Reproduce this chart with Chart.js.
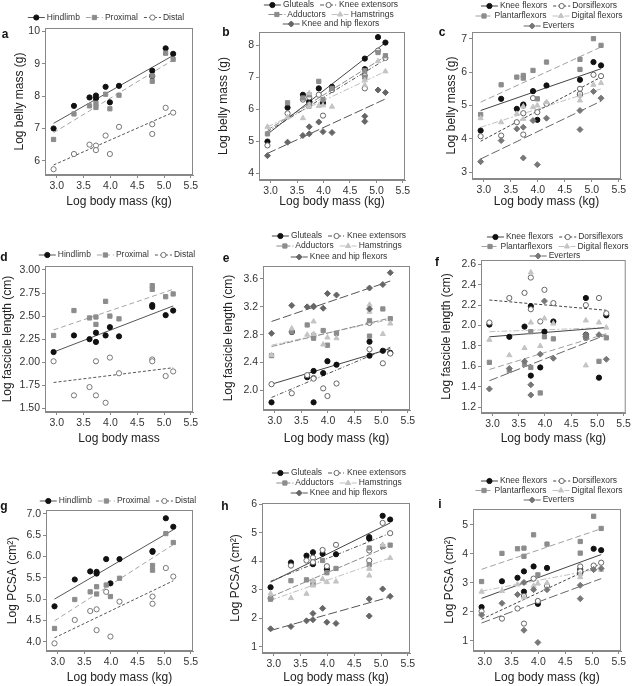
<!DOCTYPE html>
<html>
<head>
<meta charset="utf-8">
<script src="https://cdn.jsdelivr.net/npm/chart.js@4.4.0/dist/chart.umd.min.js"></script>
<style>
  body { margin: 0; background: #fff; }
  #wrap { position: relative; width: 633px; height: 686px; overflow: hidden; }
  .panel { position: absolute; }
</style>
</head>
<body>
<div id="wrap">
  <canvas class="panel" id="pa" width="211" height="230" style="left:0;top:0"></canvas>
  <canvas class="panel" id="pb" width="211" height="230" style="left:211px;top:0"></canvas>
  <canvas class="panel" id="pc" width="211" height="230" style="left:422px;top:0"></canvas>
  <canvas class="panel" id="pd" width="211" height="230" style="left:0;top:230px"></canvas>
  <canvas class="panel" id="pe" width="211" height="230" style="left:211px;top:230px"></canvas>
  <canvas class="panel" id="pf" width="211" height="230" style="left:422px;top:230px"></canvas>
  <canvas class="panel" id="pg" width="211" height="226" style="left:0;top:460px"></canvas>
  <canvas class="panel" id="ph" width="211" height="226" style="left:211px;top:460px"></canvas>
  <canvas class="panel" id="pi" width="211" height="226" style="left:422px;top:460px"></canvas>
</div>
<script>
// species, log body mass (kg)
const bodyMass = [2.94, 3.32, 3.61, 3.73, 3.73, 3.91, 3.99, 4.16, 4.78, 4.78, 5.03, 5.17];
const fitX = [2.94, 5.17];
const xTicks = [3.0, 3.5, 4.0, 4.5, 5.0, 5.5];

// a - log belly mass, hindlimb groups
const bellyHindlimb = [7.00, 7.70, 7.96, 8.02, 7.93, 8.29, 7.81, 8.32, 8.79, 8.62, 9.48, 9.31];
const bellyProximal = [6.66, 7.45, 7.70, 7.78, 7.65, 8.06, 7.61, 8.03, 8.63, 8.46, 9.33, 9.14];
const bellyDistal   = [5.74, 6.21, 6.50, 6.47, 6.33, 6.78, 6.21, 7.05, 7.13, 6.83, 7.64, 7.49];
const bellyFitHindlimb = [7.16, 9.26];
const bellyFitProximal = [6.87, 9.12];
const bellyFitDistal   = [5.87, 7.50];

// b - log belly mass, proximal muscles
const bellyGluteals   = [4.99, 6.05, 6.45, 6.25, 6.20, 6.65, 6.20, 6.70, 7.58, 7.25, 8.25, 8.08];
const bellyKneeExt    = [4.87, 5.87, 6.30, 6.37, 6.15, 6.45, 5.80, 6.60, 7.05, 6.65, 7.83, 7.60];
const bellyAdductors  = [5.23, 6.20, 6.35, 6.45, 6.10, 6.87, 6.30, 6.65, 7.20, 7.00, 7.77, 7.67];
const bellyHamstrings = [5.45, 5.75, 5.72, 6.50, 6.10, 6.10, 6.12, 6.08, 6.90, 6.75, 7.50, 7.18];
const bellyKneeHip    = [4.55, 4.97, 5.18, 5.45, 5.23, 5.60, 5.30, 5.27, 5.78, 5.62, 6.60, 6.52];
const bellyFitGluteals   = [5.22, 8.08];
const bellyFitKneeExt    = [5.30, 7.55];
const bellyFitAdductors  = [5.35, 7.65];
const bellyFitHamstrings = [5.45, 7.18];
const bellyFitKneeHip    = [4.62, 6.32];

// c - log belly mass, distal muscles
const bellyKneeFlex  = [4.25, 5.20, 4.90, 5.00, 5.03, 5.43, 4.57, 5.60, 5.77, 5.33, 6.30, 6.20];
const bellyDorsi     = [4.08, 4.10, 4.50, 4.77, 4.13, 5.22, 4.80, 5.05, 5.50, 5.35, 5.92, 5.88];
const bellyPlantar   = [4.73, 5.62, 5.85, 5.90, 5.82, 6.05, 5.20, 6.30, 6.38, 6.08, 7.00, 6.80];
const bellyDigital   = [4.62, 4.50, 4.75, 4.97, 4.60, 4.95, 5.00, 5.10, 5.30, 5.15, 5.62, 5.67];
const bellyEverters  = [3.32, 3.95, 4.30, 4.35, 3.43, 4.55, 3.23, 4.62, 4.85, 4.28, 5.42, 5.22];
const bellyFitKneeFlex = [4.85, 6.10];
const bellyFitDorsi    = [3.93, 5.85];
const bellyFitPlantar  = [5.10, 6.75];
const bellyFitDigital  = [4.35, 5.50];
const bellyFitEverters = [3.40, 5.13];

// d - log fascicle length, hindlimb groups
const fasHindlimb = [2.11, 2.29, 2.25, 2.32, 2.22, 2.29, 2.38, 2.28, 2.62, 2.60, 2.51, 2.56];
const fasProximal = [2.29, 2.56, 2.48, 2.49, 2.41, 2.66, 2.50, 2.47, 2.83, 2.79, 2.71, 2.74];
const fasDistal   = [2.01, 1.64, 1.73, 2.01, 1.64, 1.56, 2.05, 1.88, 2.03, 2.01, 1.85, 1.90];
const fasFitHindlimb = [2.11, 2.61];
const fasFitProximal = [2.35, 2.79];
const fasFitDistal   = [1.78, 1.94];

// e - log fascicle length, proximal muscles
const fasGluteals   = [1.83, 2.84, 2.19, 2.28, 1.83, 2.25, 2.42, 2.37, 2.70, 2.50, 2.57, 2.54];
const fasKneeExt    = [2.09, 1.96, 2.22, 2.18, 2.17, 2.03, 1.92, 2.10, 2.97, 2.59, 2.39, 2.53];
const fasAdductors  = [2.50, 2.84, 2.94, 2.79, 2.75, 2.86, 2.65, 2.82, 3.00, 2.78, 3.17, 3.03];
const fasHamstrings = [2.51, 2.89, 2.80, 2.99, 2.81, 2.66, 2.76, 2.75, 3.23, 3.13, 2.81, 2.96];
const fasKneeHip    = [2.82, 3.22, 3.20, 3.21, 3.20, 3.18, 3.39, 3.37, 3.47, 3.17, 3.52, 3.69];
const fasFitGluteals   = [2.09, 2.60];
const fasFitKneeExt    = [1.90, 2.62];
const fasFitAdductors  = [2.63, 3.04];
const fasFitHamstrings = [2.65, 3.02];
const fasFitKneeHip    = [2.99, 3.57];

// f - log fascicle length, distal muscles
const fasKneeFlex = [2.01, 1.89, 1.99, 2.19, 1.51, 1.59, 1.94, 2.04, 2.27, 1.91, 1.49, 2.10];
const fasDorsi    = [2.03, 2.27, 2.32, 2.47, 2.16, 2.04, 2.35, 2.22, 2.20, 1.88, 2.27, 2.12];
const fasPlantar  = [1.64, 1.56, 1.62, 1.94, 1.59, 1.34, 1.89, 1.87, 1.90, 1.88, 1.65, 1.88];
const fasDigital  = [1.86, 1.71, 1.78, 2.52, 2.03, 1.80, 2.07, 2.02, 2.05, 1.61, 2.03, 1.98];
const fasEverters = [1.38, 1.58, 1.65, 1.42, 1.32, 1.72, 2.24, 1.68, 1.91, 1.89, 1.91, 1.67];
const fasFitKneeFlex = [1.89, 1.98];
const fasFitDorsi    = [2.25, 2.15];
const fasFitPlantar  = [1.57, 1.92];
const fasFitDigital  = [1.94, 1.98];
const fasFitEverters = [1.46, 1.91];

// g - log PCSA, hindlimb groups
const pcsaHindlimb = [4.83, 5.46, 5.65, 5.64, 5.60, 5.94, 5.37, 5.94, 6.13, 6.11, 6.90, 6.70];
const pcsaProximal = [4.31, 4.99, 5.17, 5.29, 5.12, 5.33, 5.06, 5.49, 5.79, 5.68, 6.54, 6.33];
const pcsaDistal   = [3.96, 4.51, 4.72, 4.76, 4.27, 5.17, 4.12, 4.94, 5.06, 4.89, 5.73, 5.53];
const pcsaFitHindlimb = [5.00, 6.63];
const pcsaFitProximal = [4.49, 6.28];
const pcsaFitDistal   = [4.09, 5.43];

// h - log PCSA, proximal muscles
const pcsaGluteals   = [3.09, 3.96, 4.20, 4.32, 3.90, 4.27, 3.72, 4.25, 4.85, 4.80, 5.60, 5.47];
const pcsaKneeExt    = [2.70, 3.85, 4.03, 4.13, 3.97, 4.40, 3.83, 4.58, 4.38, 4.03, 5.35, 4.99];
const pcsaAdductors  = [2.67, 3.32, 3.35, 3.28, 3.20, 4.03, 3.60, 3.75, 4.47, 3.88, 4.52, 4.57];
const pcsaHamstrings = [2.87, 2.71, 2.86, 3.32, 3.15, 3.38, 3.27, 3.29, 3.74, 3.50, 4.58, 4.12];
const pcsaKneeHip    = [1.63, 1.71, 1.91, 2.17, 1.95, 2.35, 1.86, 1.82, 2.68, 2.08, 3.03, 2.77];
const pcsaFitGluteals   = [3.27, 5.35];
const pcsaFitKneeExt    = [3.30, 4.99];
const pcsaFitAdductors  = [2.75, 4.55];
const pcsaFitHamstrings = [2.63, 4.12];
const pcsaFitKneeHip    = [1.57, 2.75];

// i - log PCSA, distal muscles
const pcsaKneeFlex = [2.17, 3.06, 3.18, 3.40, 2.70, 3.57, 2.28, 3.52, 3.47, 3.35, 4.18, 4.13];
const pcsaDorsi    = [2.02, 1.77, 2.12, 2.55, 1.60, 3.15, 2.38, 2.90, 3.57, 3.40, 3.60, 3.70];
const pcsaPlantar  = [3.05, 4.02, 4.18, 4.20, 3.92, 4.66, 3.28, 4.34, 4.43, 4.03, 5.30, 4.88];
const pcsaDigital  = [2.70, 2.72, 2.95, 3.00, 2.50, 2.90, 2.98, 3.00, 3.30, 3.20, 3.47, 3.45];
const pcsaEverters = [1.90, 2.30, 2.60, 3.02, 1.37, 2.77, 0.95, 2.77, 2.92, 2.46, 3.46, 3.50];
const pcsaFitKneeFlex = [2.47, 3.98];
const pcsaFitDorsi    = [1.75, 3.67];
const pcsaFitPlantar  = [3.47, 4.87];
const pcsaFitDigital  = [2.72, 3.50];
const pcsaFitEverters = [1.62, 3.15];

// marker / line look per muscle group
const styles = {
  'Hindlimb':            {shape: 'circle',   r: 2.6, fill: '#111', stroke: '#111', line: '#555', dash: []},
  'Proximal':            {shape: 'rect',     r: 3,   fill: '#8c8c8c', stroke: '#8c8c8c', line: '#a5a5a5', dash: [5, 3]},
  'Distal':              {shape: 'circle',   r: 2.6, fill: '#fff', stroke: '#777', line: '#555', dash: [3, 2]},
  'Gluteals':            {shape: 'circle',   r: 2.6, fill: '#111', stroke: '#111', line: '#444', dash: []},
  'Knee extensors':      {shape: 'circle',   r: 2.6, fill: '#fff', stroke: '#666', line: '#555', dash: [4, 2, 1, 2]},
  'Adductors':           {shape: 'rect',     r: 3,   fill: '#8c8c8c', stroke: '#8c8c8c', line: '#8c8c8c', dash: [6, 2]},
  'Hamstrings':          {shape: 'triangle', r: 3,   fill: '#c4c4c4', stroke: '#c4c4c4', line: '#c0c0c0', dash: [6, 2, 2, 2]},
  'Knee and hip flexors':{shape: 'rectRot',  r: 3,   fill: '#666', stroke: '#666', line: '#555', dash: [9, 3]},
  'Knee flexors':        {shape: 'circle',   r: 2.6, fill: '#111', stroke: '#111', line: '#444', dash: []},
  'Dorsiflexors':        {shape: 'circle',   r: 2.6, fill: '#fff', stroke: '#666', line: '#444', dash: [3, 2]},
  'Plantarflexors':      {shape: 'rect',     r: 3,   fill: '#8c8c8c', stroke: '#8c8c8c', line: '#a0a0a0', dash: [6, 3]},
  'Digital flexors':     {shape: 'triangle', r: 3,   fill: '#c4c4c4', stroke: '#c4c4c4', line: '#c0c0c0', dash: [6, 2, 2, 2]},
  'Everters':            {shape: 'rectRot',  r: 3,   fill: '#777', stroke: '#777', line: '#666', dash: [9, 3]}
};

Chart.defaults.font.family = '"Liberation Sans", Arial, sans-serif';
Chart.defaults.color = '#333';

const TXT = '"Liberation Sans", Arial, sans-serif';

function makePanel(id, p) {
  const canvas = document.getElementById(id);
  const W = canvas.width, H = canvas.height;
  const datasets = [];
  p.series.forEach((s, i) => {
    const st = styles[s.label];
    datasets.push({
      type: 'line', label: s.label + ' fit',
      data: fitX.map((x, k) => ({x: x, y: s.fit[k]})),
      borderColor: st.line, borderDash: st.dash, borderWidth: 1,
      pointRadius: 0, fill: false, order: 20
    });
    datasets.push({
      type: 'scatter', label: s.label,
      data: bodyMass.map((x, k) => ({x: x, y: s.values[k]})),
      pointStyle: st.shape, pointRadius: st.r,
      backgroundColor: st.fill, borderColor: st.stroke, borderWidth: 1,
      order: -i
    });
  });

  const legendPlugin = {
    id: 'legend_' + id,
    afterDraw(chart) {
      const ctx = chart.ctx;
      ctx.save();
      ctx.font = '8.5px ' + TXT;
      ctx.textBaseline = 'middle';
      ctx.textAlign = 'left';
      const lineLen = 17, gap = 6;
      p.legendRows.forEach((row, r) => {
        const y = p.legendY[r];
        const widths = row.map(i => lineLen + 2 + ctx.measureText(p.series[i].label).width);
        const total = widths.reduce((a, b) => a + b, 0) + gap * (row.length - 1);
        let x = p.legendX - total / 2;
        row.forEach((i, k) => {
          const st = styles[p.series[i].label];
          ctx.strokeStyle = st.line;
          ctx.lineWidth = 1;
          ctx.setLineDash(st.dash);
          ctx.beginPath();
          ctx.moveTo(x, y);
          ctx.lineTo(x + lineLen, y);
          ctx.stroke();
          ctx.setLineDash([]);
          ctx.fillStyle = st.fill;
          ctx.strokeStyle = st.stroke;
          Chart.helpers.drawPoint(ctx, {pointStyle: st.shape, radius: st.r, borderWidth: 1, rotation: 0}, x + lineLen / 2, y);
          ctx.fillStyle = '#333';
          ctx.fillText(p.series[i].label, x + lineLen + 2, y);
          x += widths[k] + gap;
        });
      });
      // panel letter
      ctx.font = 'bold 12px ' + TXT;
      ctx.fillStyle = '#111';
      ctx.textAlign = 'center';
      ctx.fillText(p.letter, p.letterPos[0], p.letterPos[1]);
      // frame round the plot
      const a = chart.chartArea;
      ctx.strokeStyle = '#888';
      ctx.lineWidth = 1;
      ctx.strokeRect(a.left + 0.5, a.top + 0.5, a.right - a.left - 1, a.bottom - a.top - 1);
      ctx.restore();
    }
  };

  new Chart(canvas, {
    type: 'scatter',
    data: {datasets: datasets},
    options: {
      responsive: false,
      animation: false,
      devicePixelRatio: 1,
      layout: {padding: {top: p.box[2], right: W - p.box[1], left: 0, bottom: 0}},
      plugins: {legend: {display: false}, tooltip: {enabled: false}},
      scales: {
        x: {
          type: 'linear', min: 2.78, max: 5.54,
          afterBuildTicks: sc => { sc.ticks = xTicks.map(v => ({value: v})); },
          afterFit: sc => { sc.height = H - p.box[3]; },
          ticks: {font: {size: 10.5}, color: '#333', padding: 2, maxRotation: 0,
                  callback: v => v.toFixed(1)},
          grid: {drawOnChartArea: false, drawTicks: true, tickLength: 3, color: '#888'},
          border: {display: true, color: '#888'},
          title: {display: true, text: p.xTitle, font: {size: 12}, color: '#222',
                  padding: {top: 0, bottom: p.xTitlePad}}
        },
        y: {
          type: 'linear', min: p.yRange[0], max: p.yRange[1],
          afterBuildTicks: sc => { sc.ticks = p.yTicks.map(v => ({value: v})); },
          afterFit: sc => { sc.width = p.box[0]; },
          ticks: {font: {size: 10.5}, color: '#333', padding: 2,
                  callback: v => v.toFixed(p.yDec)},
          grid: {drawOnChartArea: false, drawTicks: true, tickLength: 3, color: '#888'},
          border: {display: true, color: '#888'},
          title: {display: true, text: p.yTitle, font: {size: 12}, color: '#222',
                  padding: {top: p.yTitlePad, bottom: 0}}
        }
      }
    },
    plugins: [legendPlugin]
  });
}

const rows3 = [[0, 1, 2]];
const rows5 = [[0, 1], [2, 3], [4]];

makePanel('pa', {
  letter: 'a', letterPos: [5, 35], box: [45, 193, 28, 175],
  yRange: [5.56, 10.11], yTicks: [6, 7, 8, 9, 10], yDec: 0,
  yTitle: 'Log belly mass (g)', yTitlePad: 12.8, xTitle: 'Log body mass (kg)', xTitlePad: 20.8,
  legendRows: rows3, legendY: [17.5], legendX: 106,
  series: [
    {label: 'Hindlimb', values: bellyHindlimb, fit: bellyFitHindlimb},
    {label: 'Proximal', values: bellyProximal, fit: bellyFitProximal},
    {label: 'Distal', values: bellyDistal, fit: bellyFitDistal}
  ]
});

makePanel('pb', {
  letter: 'b', letterPos: [15, 33], box: [48, 194, 32, 180],
  yRange: [3.79, 8.41], yTicks: [4, 5, 6, 7, 8], yDec: 0,
  yTitle: 'Log belly mass (g)', yTitlePad: 5.8, xTitle: 'Log body mass (kg)', xTitlePad: 20.8,
  legendRows: rows5, legendY: [5, 14.5, 24], legendX: 120,
  series: [
    {label: 'Gluteals', values: bellyGluteals, fit: bellyFitGluteals},
    {label: 'Knee extensors', values: bellyKneeExt, fit: bellyFitKneeExt},
    {label: 'Adductors', values: bellyAdductors, fit: bellyFitAdductors},
    {label: 'Hamstrings', values: bellyHamstrings, fit: bellyFitHamstrings},
    {label: 'Knee and hip flexors', values: bellyKneeHip, fit: bellyFitKneeHip}
  ]
});

makePanel('pc', {
  letter: 'c', letterPos: [20, 33], box: [50, 199, 32, 179],
  yRange: [2.8, 7.2], yTicks: [3, 4, 5, 6, 7], yDec: 0,
  yTitle: 'Log belly mass (g)', yTitlePad: 22.8, xTitle: 'Log body mass (kg)', xTitlePad: 20.8,
  legendRows: rows5, legendY: [6, 16, 26], legendX: 127,
  series: [
    {label: 'Knee flexors', values: bellyKneeFlex, fit: bellyFitKneeFlex},
    {label: 'Dorsiflexors', values: bellyDorsi, fit: bellyFitDorsi},
    {label: 'Plantarflexors', values: bellyPlantar, fit: bellyFitPlantar},
    {label: 'Digital flexors', values: bellyDigital, fit: bellyFitDigital},
    {label: 'Everters', values: bellyEverters, fit: bellyFitEverters}
  ]
});

makePanel('pd', {
  letter: 'd', letterPos: [4, 28], box: [45, 193, 36, 182],
  yRange: [1.46, 3.043], yTicks: [1.5, 1.75, 2.0, 2.25, 2.5, 2.75, 3.0], yDec: 2,
  yTitle: 'Log fascicle length (cm)', yTitlePad: 0.8, xTitle: 'Log body mass', xTitlePad: 13.8,
  legendRows: rows3, legendY: [25], legendX: 117,
  series: [
    {label: 'Hindlimb', values: fasHindlimb, fit: fasFitHindlimb},
    {label: 'Proximal', values: fasProximal, fit: fasFitProximal},
    {label: 'Distal', values: fasDistal, fit: fasFitDistal}
  ]
});

makePanel('pe', {
  letter: 'e', letterPos: [15, 29], box: [52, 199, 36, 180],
  yRange: [1.72, 3.786], yTicks: [2.0, 2.4, 2.8, 3.2, 3.6], yDec: 1,
  yTitle: 'Log fascicle length (cm)', yTitlePad: 10.8, xTitle: 'Log body mass (kg)', xTitlePad: 13.8,
  legendRows: rows5, legendY: [6, 16, 27], legendX: 128,
  series: [
    {label: 'Gluteals', values: fasGluteals, fit: fasFitGluteals},
    {label: 'Knee extensors', values: fasKneeExt, fit: fasFitKneeExt},
    {label: 'Adductors', values: fasAdductors, fit: fasFitAdductors},
    {label: 'Hamstrings', values: fasHamstrings, fit: fasFitHamstrings},
    {label: 'Knee and hip flexors', values: fasKneeHip, fit: fasFitKneeHip}
  ]
});

makePanel('pf', {
  letter: 'f', letterPos: [15, 33], box: [59, 206, 30, 183],
  yRange: [1.144, 2.642], yTicks: [1.2, 1.4, 1.6, 1.8, 2.0, 2.2, 2.4, 2.6], yDec: 1,
  yTitle: 'Log fascicle length (cm)', yTitlePad: 17.8, xTitle: 'Log body mass (kg)', xTitlePad: 13.8,
  legendRows: rows5, legendY: [7, 16.5, 26], legendX: 133,
  series: [
    {label: 'Knee flexors', values: fasKneeFlex, fit: fasFitKneeFlex},
    {label: 'Dorsiflexors', values: fasDorsi, fit: fasFitDorsi},
    {label: 'Plantarflexors', values: fasPlantar, fit: fasFitPlantar},
    {label: 'Digital flexors', values: fasDigital, fit: fasFitDigital},
    {label: 'Everters', values: fasEverters, fit: fasFitEverters}
  ]
});

makePanel('pg', {
  letter: 'g', letterPos: [4, 47], box: [46, 193, 50, 191],
  yRange: [3.78, 7.094], yTicks: [4.0, 4.5, 5.0, 5.5, 6.0, 6.5, 7.0], yDec: 1,
  yTitle: 'Log PCSA (cm²)', yTitlePad: 5.8, xTitle: 'Log body mass (kg)', xTitlePad: 0.8,
  legendRows: rows3, legendY: [41], legendX: 118,
  series: [
    {label: 'Hindlimb', values: pcsaHindlimb, fit: pcsaFitHindlimb},
    {label: 'Proximal', values: pcsaProximal, fit: pcsaFitProximal},
    {label: 'Distal', values: pcsaDistal, fit: pcsaFitDistal}
  ]
});

makePanel('ph', {
  letter: 'h', letterPos: [14, 47], box: [51, 199, 43, 193],
  yRange: [0.78, 6.05], yTicks: [1, 2, 3, 4, 5, 6], yDec: 0,
  yTitle: 'Log PCSA (cm²)', yTitlePad: 17.8, xTitle: 'Log body mass (kg)', xTitlePad: 0.8,
  legendRows: rows5, legendY: [13, 23, 33], legendX: 128,
  series: [
    {label: 'Gluteals', values: pcsaGluteals, fit: pcsaFitGluteals},
    {label: 'Knee extensors', values: pcsaKneeExt, fit: pcsaFitKneeExt},
    {label: 'Adductors', values: pcsaAdductors, fit: pcsaFitAdductors},
    {label: 'Hamstrings', values: pcsaHamstrings, fit: pcsaFitHamstrings},
    {label: 'Knee and hip flexors', values: pcsaKneeHip, fit: pcsaFitKneeHip}
  ]
});

makePanel('pi', {
  letter: 'i', letterPos: [18, 45], box: [51, 199, 49, 191],
  yRange: [0.655, 5.55], yTicks: [1, 2, 3, 4, 5], yDec: 0,
  yTitle: 'Log PCSA (cm²)', yTitlePad: 20.8, xTitle: 'Log body mass (kg)', xTitlePad: 0.8,
  legendRows: rows5, legendY: [21, 30.5, 40], legendX: 127,
  series: [
    {label: 'Knee flexors', values: pcsaKneeFlex, fit: pcsaFitKneeFlex},
    {label: 'Dorsiflexors', values: pcsaDorsi, fit: pcsaFitDorsi},
    {label: 'Plantarflexors', values: pcsaPlantar, fit: pcsaFitPlantar},
    {label: 'Digital flexors', values: pcsaDigital, fit: pcsaFitDigital},
    {label: 'Everters', values: pcsaEverters, fit: pcsaFitEverters}
  ]
});
</script>
</body>
</html>
